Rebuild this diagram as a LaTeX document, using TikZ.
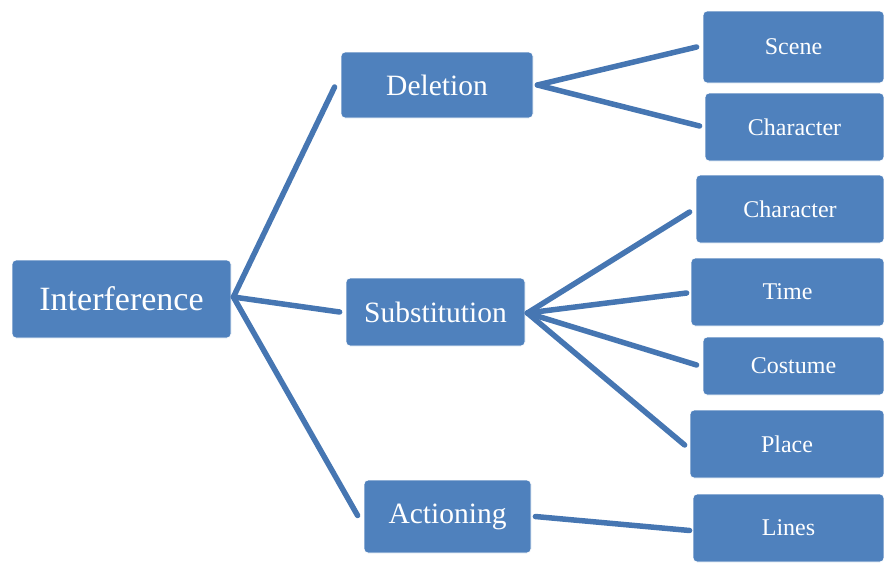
\documentclass[tikz,border=0pt]{standalone}
\usepackage{fontspec}
\setmainfont{Liberation Serif}
\definecolor{boxblue}{HTML}{4F81BD}
\definecolor{lineblue}{HTML}{4676B2}
\begin{document}
\begin{tikzpicture}[x=1pt,y=-1pt,
  box/.style={fill=boxblue,draw=white,line width=0.8pt,rounded corners=4pt,text=white,inner sep=0pt,align=center},
  rootbox/.style={box,font=\fontsize{34}{37}\selectfont},
  midbox/.style={box,font=\fontsize{29.5}{32}\selectfont},
  leafbox/.style={box,font=\fontsize{24}{27}\selectfont},
  conn/.style={draw=lineblue,line width=5.5pt,line cap=round}]
\useasboundingbox (0,0) rectangle (884,563);
\node[rootbox,minimum width=219pt,minimum height=78pt] (root) at (121.5,299) {Interference};
\node[midbox,minimum width=192pt,minimum height=66pt] (del) at (437,85) {Deletion};
\node[midbox,minimum width=179pt,minimum height=68pt] (sub) at (435.5,312) {Substitution};
\node[midbox,minimum width=167pt,minimum height=73pt] (act) at (447.5,516.5) {Actioning};
\node[leafbox,minimum width=181pt,minimum height=72pt] (scene) at (793.5,47) {Scene};
\node[leafbox,minimum width=179pt,minimum height=68pt] (charA) at (794.5,127) {Character};
\node[leafbox,minimum width=188pt,minimum height=68pt] (charB) at (790,209) {Character};
\node[leafbox,minimum width=193pt,minimum height=68pt] (time) at (787.5,292) {Time};
\node[leafbox,minimum width=181pt,minimum height=58pt] (costume) at (793.5,366) {Costume};
\node[leafbox,minimum width=194pt,minimum height=68pt] (place) at (787,444) {Place};
\node[leafbox,minimum width=191pt,minimum height=68pt] (lines) at (788.5,528) {Lines};
\draw[conn] ([xshift=2pt,yshift=2pt]root.east) -- ([xshift=-6pt,yshift=-2pt]del.west);
\draw[conn] ([xshift=2pt,yshift=2pt]root.east) -- ([xshift=-6pt]sub.west);
\draw[conn] ([xshift=2pt,yshift=2pt]root.east) -- ([xshift=-6pt,yshift=1pt]act.west);
\draw[conn] ([xshift=4pt]del.east) -- ([xshift=-6pt]scene.west);
\draw[conn] ([xshift=4pt]del.east) -- ([xshift=-5pt,yshift=1pt]charA.west);
\draw[conn] ([xshift=2pt,yshift=-1pt]sub.east) -- ([xshift=-6pt,yshift=-3pt]charB.west);
\draw[conn] ([xshift=2pt,yshift=-1pt]sub.east) -- ([xshift=-4pt,yshift=-1pt]time.west);
\draw[conn] ([xshift=2pt,yshift=-1pt]sub.east) -- ([xshift=-6pt,yshift=1pt]costume.west);
\draw[conn] ([xshift=2pt,yshift=-1pt]sub.east) -- ([xshift=-5pt,yshift=-1pt]place.west);
\draw[conn] ([xshift=4pt]act.east) -- ([xshift=-3pt,yshift=-2.5pt]lines.west);
\end{tikzpicture}
\end{document}
